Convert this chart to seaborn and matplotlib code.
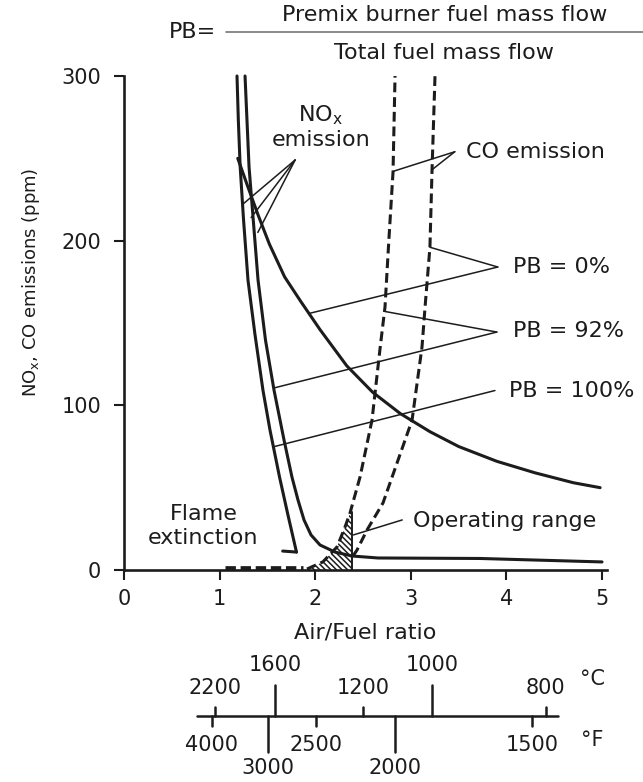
import numpy as np
import pandas as pd
import matplotlib
matplotlib.use("Agg")
import matplotlib.pyplot as plt
import seaborn as sns

# ---------------- data (air/fuel ratio, ppm) ----------------
nox_pb100_x = [1.182, 1.196, 1.215, 1.250, 1.297, 1.370, 1.454, 1.527, 1.627, 1.715, 1.804]
nox_pb100_y = [300, 273, 245, 213, 176, 143, 109, 85, 56.4, 33.4, 10.9]
extinct_x = [1.804, 1.66]
extinct_y = [10.9, 11.5]

nox_pb92_x = [1.266, 1.308, 1.402, 1.48, 1.569, 1.674, 1.757, 1.82, 1.883, 1.956,
              2.05, 2.207, 2.385, 2.657, 3.724, 5.0]
nox_pb92_y = [300, 244.7, 176.1, 139.6, 109.3, 78.9, 56.4, 42.5, 30.4, 21.3,
              15.2, 10.9, 8.5, 7.3, 7.0, 4.9]

nox_pb0_x = [1.19, 1.30, 1.40, 1.52, 1.68, 1.85, 2.05, 2.33, 2.60, 2.89,
             3.20, 3.50, 3.90, 4.30, 4.70, 4.98]
nox_pb0_y = [250, 232, 216, 198, 178, 163, 146, 124, 108, 95,
             84, 75, 66, 59, 53, 50]

co_pb92_x = [1.914, 2.08, 2.228, 2.312, 2.364, 2.469, 2.594, 2.68, 2.73, 2.77, 2.814, 2.835]
co_pb92_y = [0.6, 4.9, 14, 26.1, 34.6, 56.5, 91, 135.4, 159.7, 200, 241.7, 300]

co_pb0_x = [2.395, 2.437, 2.542, 2.709, 2.856, 3.013, 3.117, 3.149, 3.20, 3.222, 3.253]
co_pb0_y = [8.5, 12.1, 24.3, 40.7, 65, 91, 135.4, 159.7, 196, 242.9, 300]

co_low_x = [1.06, 1.87]
co_low_y = [1.5, 1.5]

op_range_x = [1.914, 2.08, 2.228, 2.312, 2.364, 2.38, 2.38]
op_range_y = [0, 4.9, 14, 26.1, 34.6, 35, 0]

x_ticks = [0, 1, 2, 3, 4, 5]
y_ticks = [0, 100, 200, 300]

# temperature scale: labels and their air/fuel positions
temp_c_labels = ["2200", "1600", "1200", "1000", "800"]
temp_c_pos = [0.95, 1.58, 2.50, 3.22, 4.41]
temp_c_long = [False, True, False, True, False]
temp_f_labels = ["4000", "3000", "2500", "2000", "1500"]
temp_f_pos = [0.92, 1.51, 2.01, 2.83, 4.27]
temp_f_long = [False, True, False, True, False]
temp_line_x = [0.76, 4.54]

# ---------------- styling ----------------
sns.set_theme(style="white")
plt.rcParams["font.family"] = ["DejaVu Sans"]
plt.rcParams["mathtext.default"] = "regular"
plt.rcParams["hatch.linewidth"] = 1.1
INK = "#1c1c1c"
LW = 2.2
LEAD = 1.1
FS = 15

fig = plt.figure(figsize=(6.43, 7.82), dpi=100)
ax = fig.add_axes([124 / 643, 212 / 782, 482.8 / 643, 494 / 782])

def curve(xs, ys, dashed=False, lw=LW):
    df = pd.DataFrame({"x": xs, "y": ys})
    kw = dict(linestyle=(0, (3.2, 1.6))) if dashed else {}
    sns.lineplot(data=df, x="x", y="y", sort=False, estimator=None, color=INK,
                 linewidth=lw, ax=ax, clip_on=False, **kw)

curve(nox_pb100_x, nox_pb100_y)
curve(extinct_x, extinct_y)
curve(nox_pb92_x, nox_pb92_y)
curve(nox_pb0_x, nox_pb0_y)
curve(co_pb92_x, co_pb92_y, dashed=True)
curve(co_pb0_x, co_pb0_y, dashed=True)
ax.plot(co_low_x, co_low_y, color=INK, lw=3.4, linestyle=(0, (2.2, 1.0)), solid_capstyle="butt")

# operating range (hatched)
ax.fill(op_range_x, op_range_y, facecolor="none", edgecolor=INK, hatch="\\" * 6, lw=0)
ax.plot(op_range_x[-2:], op_range_y[-2:], color=INK, lw=1.4)

# leader lines
def lead(x0, y0, x1, y1):
    ax.plot([x0, x1], [y0, y1], color=INK, lw=LEAD, clip_on=False)

# NOx emission
for ex, ey in [(1.24, 222), (1.33, 214), (1.40, 205)]:
    lead(1.79, 249, ex, ey)
# CO emission
lead(3.46, 254, 2.81, 242)
lead(3.46, 254, 3.22, 243)
# PB = 0 %
lead(3.91, 184, 3.20, 196)
lead(3.91, 184, 1.95, 156)
# PB = 92 %
lead(3.90, 144.5, 2.73, 157)
lead(3.90, 144.5, 1.565, 110.5)
# PB = 100 %
lead(3.88, 109, 1.555, 74.7)
# operating range
lead(2.91, 30.4, 2.40, 21.3)

TFS = 16
ax.text(2.06, 276, "NO$_x$", ha="center", va="center", fontsize=TFS, color=INK)
ax.text(2.06, 261, "emission", ha="center", va="center", fontsize=TFS, color=INK)
ax.text(3.58, 254, "CO emission", ha="left", va="center", fontsize=TFS, color=INK)
ax.text(4.07, 184, "PB = 0%", ha="left", va="center", fontsize=TFS, color=INK)
ax.text(4.07, 145, "PB = 92%", ha="left", va="center", fontsize=TFS, color=INK)
ax.text(4.03, 109, "PB = 100%", ha="left", va="center", fontsize=TFS, color=INK)
ax.text(3.02, 30, "Operating range", ha="left", va="center", fontsize=TFS, color=INK)
ax.text(0.83, 27, "Flame\nextinction", ha="center", va="center", fontsize=TFS, color=INK,
        linespacing=1.25)

# axes styling
ax.set_xlim(0, 5.05)
ax.set_ylim(0, 300)
ax.set_xticks(x_ticks)
ax.set_yticks(y_ticks)
ax.set_xticklabels([str(v) for v in x_ticks])
ax.set_yticklabels([str(v) for v in y_ticks])
for side in ["top", "right"]:
    ax.spines[side].set_visible(False)
for side in ["left", "bottom"]:
    ax.spines[side].set_linewidth(1.9)
    ax.spines[side].set_color(INK)
ax.tick_params(axis="both", direction="out", length=7.5, width=1.5, color=INK,
               labelsize=FS, labelcolor=INK, pad=6, bottom=True, left=True)
ax.tick_params(axis="y", pad=9)
ax.set_xlabel("Air/Fuel ratio", fontsize=16, color=INK)
ax.xaxis.set_label_coords(0.5, -0.106)
ax.set_ylabel("NO$_x$, CO emissions (ppm)", fontsize=13, color=INK)
ax.yaxis.set_label_coords(-0.17, 0.583)
ax.set_facecolor("white")

# temperature scale
ax2 = fig.add_axes([124 / 643, 2 / 782, 482.8 / 643, 130 / 782])
ax2.set_xlim(0, 5.05)
ax2.set_ylim(-64, 66)
ax2.axis("off")
ax2.plot(temp_line_x, [0, 0], color=INK, lw=1.8)
for lab, p, lg in zip(temp_c_labels, temp_c_pos, temp_c_long):
    h = 31 if lg else 9
    ax2.plot([p, p], [0, h], color=INK, lw=1.8)
    ax2.text(p, 51 if lg else 28, lab, ha="center", va="center", fontsize=FS, color=INK)
for lab, p, lg in zip(temp_f_labels, temp_f_pos, temp_f_long):
    h = -36 if lg else -10
    ax2.plot([p, p], [0, h], color=INK, lw=1.8)
    ax2.text(p, -52 if lg else -29, lab, ha="center", va="center", fontsize=FS, color=INK)
ax2.text(4.90, 37, "°C", ha="center", va="center", fontsize=FS, color=INK)
ax2.text(4.90, -24, "°F", ha="center", va="center", fontsize=FS, color=INK)

# PB definition at top
fig.text(192 / 643, 1 - 32 / 782, "PB=", ha="center", va="center", fontsize=TFS, color=INK)
fig.text(445 / 643, 1 - 15 / 782, "Premix burner fuel mass flow", ha="center", va="center",
         fontsize=TFS, color=INK)
fig.text(444 / 643, 1 - 53 / 782, "Total fuel mass flow", ha="center", va="center",
         fontsize=TFS, color=INK)
fig.add_artist(plt.Line2D([226 / 643, 1.0], [1 - 32 / 782, 1 - 32 / 782],
                          transform=fig.transFigure, color="#777777", lw=1.2))

fig.savefig("out.png", dpi=100, facecolor="white")
